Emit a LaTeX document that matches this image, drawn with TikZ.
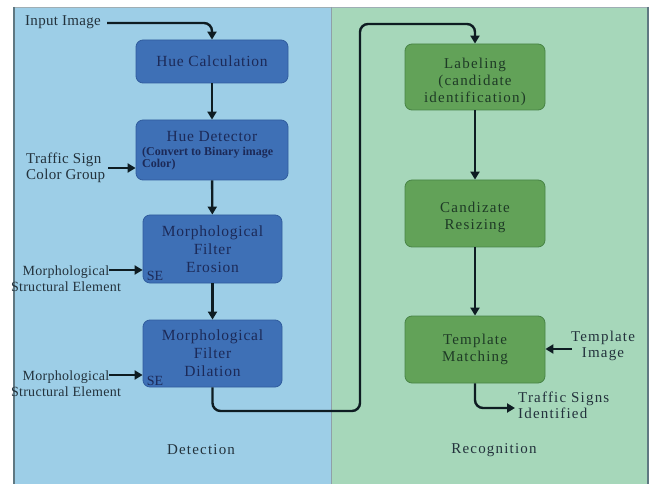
\documentclass[tikz,border=0pt]{standalone}
\usepackage{fontspec}
\setmainfont{Liberation Serif}
\newfontfamily\spacedfont[LetterSpace=5]{Liberation Serif}
\newfontfamily\widefont[LetterSpace=8]{Liberation Serif}
\newfontfamily\lightspaced[LetterSpace=2]{Liberation Serif}
\usetikzlibrary{arrows.meta}
\definecolor{detbg}{RGB}{157,206,231}
\definecolor{recbg}{RGB}{166,215,186}
\definecolor{panelrule}{RGB}{95,120,130}
\definecolor{bluebox}{RGB}{62,112,182}
\definecolor{blueedge}{RGB}{48,92,158}
\definecolor{greenbox}{RGB}{98,162,88}
\definecolor{greenedge}{RGB}{72,132,70}
\definecolor{navytext}{RGB}{28,42,88}
\definecolor{greentext}{RGB}{30,58,38}
\definecolor{labeltext}{RGB}{35,50,60}
\definecolor{wire}{RGB}{14,28,34}
% a taller first line pushes a box's text block down by half the extra height
\newcommand{\lowerby}[1]{\rule{0pt}{\dimexpr 11pt+2\dimexpr #1\relax\relax}}
\tikzset{
  bstep/.style={draw=blueedge, fill=bluebox, line width=0.8pt, rounded corners=7pt,
    inner sep=0pt, text=navytext, align=center, font=\spacedfont\fontsize{15.5}{18}\selectfont},
  gstep/.style={draw=greenedge, fill=greenbox, line width=0.8pt, rounded corners=7pt,
    inner sep=0pt, text=greentext, align=center, font=\widefont\fontsize{15}{17.2}\selectfont},
  sidelabel/.style={inner sep=0pt, text=labeltext, font=\lightspaced\fontsize{14}{16.5}\selectfont},
  biglabel/.style={inner sep=0pt, text=labeltext, font=\lightspaced\fontsize{15}{16.5}\selectfont},
  widelabel/.style={inner sep=0pt, text=labeltext, font=\widefont\fontsize{15}{16.5}\selectfont},
  selabel/.style={inner sep=0pt, text=navytext, font=\fontsize{14}{14}\selectfont},
  conn/.style={draw=wire, line width=2.4pt, rounded corners=8pt,
    -{Triangle[length=8pt,width=9pt]}},
  panelname/.style={inner sep=0pt, text=labeltext, font=\widefont\fontsize{15}{16}\selectfont}
}
\begin{document}
\begin{tikzpicture}[x=1pt,y=-1pt]
\useasboundingbox (0,0) rectangle (654,484);
\fill[white] (0,0) rectangle (654,484);

% two stage panels
\fill[detbg] (13,7) rectangle (331,484);
\fill[recbg] (331,7) rectangle (648,484);
\draw[panelrule!60, line width=0.8pt] (13,7) -- (648,7);
\draw[panelrule!70, line width=0.8pt] (331,7) -- (331,484);
\draw[panelrule, line width=2pt] (14,7) -- (14,484);
\draw[panelrule, line width=2pt] (647.5,7) -- (647.5,484);

% detection stage
\node[bstep, minimum width=152pt, minimum height=43pt] (hue) at (212,61.5) {Hue Calculation};
\node[bstep, minimum width=152pt, minimum height=60pt] (det) at (212,150) {};
\node[inner sep=0pt, text=navytext, font=\spacedfont\fontsize{15.5}{18}\selectfont] (detT) at (212,137) {Hue Detector};
\node[inner sep=0pt, anchor=west, align=left, text=navytext,
  font=\bfseries\fontsize{12}{12}\selectfont] (detS) at (142,159) {(Convert to Binary image\\Color)};
\node[bstep, minimum width=139pt, minimum height=68pt] (ero) at (212.5,249) {Morphological\\Filter\\Erosion};
\node[bstep, minimum width=139pt, minimum height=67pt] (dil) at (212.5,353.5) {Morphological\\Filter\\Dilation};
\node[selabel] (se1) at (155,276) {SE};
\node[selabel] (se2) at (155,381) {SE};

% recognition stage
\node[gstep, minimum width=140pt, minimum height=66pt] (lab) at (475,77) {\lowerby{4.5pt}Labeling\\(candidate\\identification)};
\node[gstep, minimum width=140pt, minimum height=67pt] (res) at (475,213.5) {\lowerby{3.5pt}Candizate\\Resizing};
\node[gstep, minimum width=140pt, minimum height=67pt] (tm) at (475,349.5) {Template\\Matching};

% inputs and outputs
\node[biglabel, anchor=west] (inimg) at (25,22) {Input Image};
\node[biglabel, anchor=west, align=left] (tscg) at (26,168) {Traffic Sign\\Color Group};
\node[sidelabel, align=center] (mse1) at (66,278.5) {Morphological\\Structural Element};
\node[sidelabel, align=center] (mse2) at (66,383.5) {Morphological\\Structural Element};
\node[widelabel, align=center] (timg) at (603,346) {Template\\Image};
\node[widelabel, anchor=west, align=left] (tsi) at (518,405.5) {Traffic Signs\\Identified};
\coordinate (inimgout) at (107,23);
\coordinate (tscgout) at (108,168);
\coordinate (mse1out) at (109,270);
\coordinate (mse2out) at (109,375);
\coordinate (timgout) at (572,349);
\coordinate (tsiin) at (515,408);

\node[panelname] (detname) at (201,450) {Detection};
\node[panelname] (recname) at (494,450) {Recognition};

% connectors
\draw[conn] (inimgout) -- (212,23) -- (hue.north);
\draw[conn] (hue) -- (det);
\draw[conn] (tscgout) -- (det.west |- tscgout);
\draw[conn] (det) -- (ero);
\draw[conn] (mse1out) -- (ero.west |- mse1out);
\draw[conn] (ero) -- (dil);
\draw[conn] (mse2out) -- (dil.west |- mse2out);
\draw[conn] (dil.south) -- (212.5,411) -- (360,411) -- (360,24) -- (475,24) -- (lab.north);
\draw[conn] (lab) -- (res);
\draw[conn] (res) -- (tm);
\draw[conn] (timgout) -- (tm.east |- timgout);
\draw[conn] (tm.south) -- (475,408) -- (tsiin);
\end{tikzpicture}
\end{document}
